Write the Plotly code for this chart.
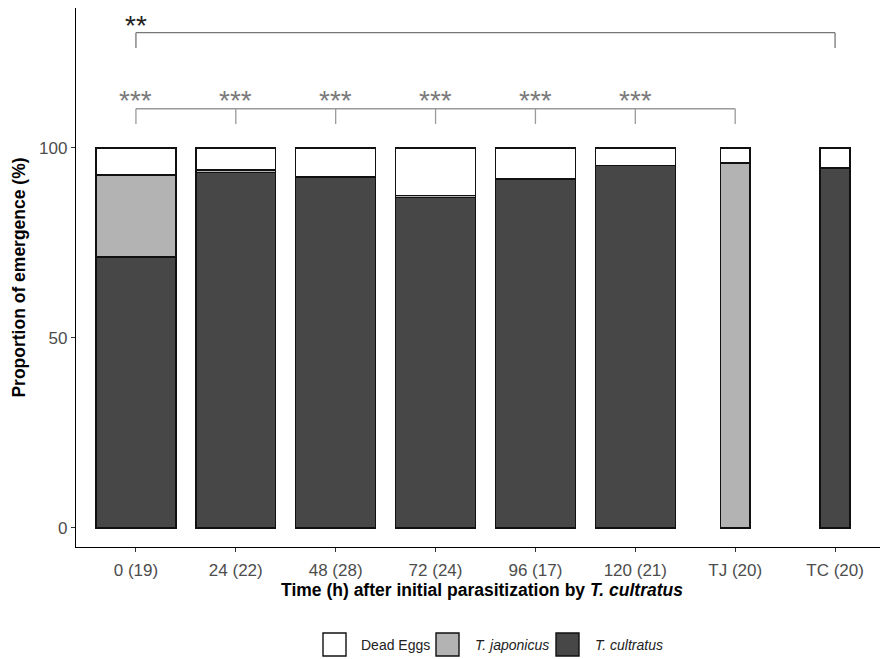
import plotly.graph_objects as go

categories = ["0 (19)", "24 (22)", "48 (28)", "72 (24)", "96 (17)", "120 (21)", "TJ (20)", "TC (20)"]
t_cultratus = [71.3, 93.5, 92.2, 87.0, 91.8, 95.3, 0.0, 94.7]
t_japonicus = [21.6, 0.7, 0.1, 0.4, 0.0, 0.0, 96.0, 0.0]
dead_eggs = [7.1, 5.8, 7.7, 12.6, 8.2, 4.7, 4.0, 5.3]
bar_widths = [0.8, 0.8, 0.8, 0.8, 0.8, 0.8, 0.3, 0.3]
legend_names = ["Dead Eggs", "<i>T. japonicus</i>", "<i>T. cultratus</i>"]
legend_colors = ["#ffffff", "#b3b3b3", "#474747"]

x_idx = list(range(len(categories)))
FONT = "Liberation Sans, Arial, sans-serif"
# the page body adds an 8px offset; figure is sized so it fits the 888x659 window
OFF = 8
W, H = 888 - OFF, 659 - OFF
ML, MR, MT, MB = 76 - OFF, 0, 8 - OFF, 659 - 547
PW, PH = W - ML - MR, H - MT - MB


def px_x(sx):
    return (sx - OFF - ML) / PW


def px_y(sy):
    return (H - MB - (sy - OFF)) / PH


fig = go.Figure()
series = [
    ("T. cultratus", t_cultratus, "#474747"),
    ("T. japonicus", t_japonicus, "#b3b3b3"),
    ("Dead Eggs", dead_eggs, "#ffffff"),
]
for name, vals, col in series:
    fig.add_trace(go.Bar(
        x=x_idx, y=vals, width=bar_widths, name=name, showlegend=False,
        marker=dict(color=col, line=dict(color="#111111", width=1.4)),
    ))

# significance brackets
y_low, y_low_tick = 110.3, 106.3
fig.add_shape(type="line", x0=0, x1=6, y0=y_low, y1=y_low, xref="x", yref="y",
              line=dict(color="#9a9a9a", width=1.3))
for i in range(0, 7):
    fig.add_shape(type="line", x0=i, x1=i, y0=y_low_tick, y1=y_low, xref="x", yref="y",
                  line=dict(color="#9a9a9a", width=1.3))
for i in range(0, 6):
    fig.add_annotation(x=i, y=112.4, text="***", showarrow=False, xref="x", yref="y",
                       font=dict(size=28, color="#7a7a7a", family=FONT), yanchor="middle")

y_up, y_up_tick = 130.3, 126.3
fig.add_shape(type="line", x0=0, x1=7, y0=y_up, y1=y_up, xref="x", yref="y",
              line=dict(color="#777777", width=1.3))
for i in (0, 7):
    fig.add_shape(type="line", x0=i, x1=i, y0=y_up_tick, y1=y_up, xref="x", yref="y",
                  line=dict(color="#777777", width=1.3))
fig.add_annotation(x=0, y=132.3, text="**", showarrow=False, xref="x", yref="y",
                   font=dict(size=28, color="#222222", family=FONT), yanchor="middle")

# manual legend (boxes + labels), positions in window pixels
box_left = [323, 436, 556]
text_left = [359, 473, 593]
for name, col, bl, tl in zip(legend_names, legend_colors, box_left, text_left):
    fig.add_shape(type="rect", xref="paper", yref="paper",
                  x0=px_x(bl), x1=px_x(bl + 23), y0=px_y(656), y1=px_y(633),
                  fillcolor=col, line=dict(color="#111111", width=1.4))
    fig.add_annotation(xref="paper", yref="paper", x=px_x(tl), y=px_y(645),
                       text=name, showarrow=False, xanchor="left", yanchor="middle",
                       font=dict(size=14, color="#222222", family=FONT))

fig.update_layout(
    width=W, height=H,
    barmode="stack",
    plot_bgcolor="white", paper_bgcolor="white",
    margin=dict(l=ML, r=MR, t=MT, b=MB, autoexpand=False),
    font=dict(family=FONT, size=15, color="#000000"),
    showlegend=False,
    xaxis=dict(
        range=[-0.6, 7.53], tickmode="array", tickvals=x_idx, ticktext=categories,
        showline=True, linecolor="#000000", linewidth=1.3, showgrid=False, zeroline=False,
        ticks="outside", ticklen=4, tickcolor="#333333", tickwidth=1.2,
        tickfont=dict(size=17, color="#4d4d4d"), automargin=False, ticklabelstandoff=3,
        title=dict(text="<b>Time (h) after initial parasitization by <i>T. cultratus</i></b>",
                   font=dict(size=17.5, color="#000000"), standoff=4),
    ),
    yaxis=dict(
        range=[-5, 136.8], tickmode="array", tickvals=[0, 50, 100], ticktext=["0", "50", "100"],
        showline=True, linecolor="#000000", linewidth=1.3, showgrid=False, zeroline=False,
        ticks="outside", ticklen=4, tickcolor="#333333", tickwidth=1.2,
        tickfont=dict(size=17, color="#4d4d4d"), automargin=False,
        title=dict(text="<b>Proportion of emergence (%)</b>", font=dict(size=17.5, color="#000000"),
                   standoff=8),
    ),
)

fig.write_html("out.html")
